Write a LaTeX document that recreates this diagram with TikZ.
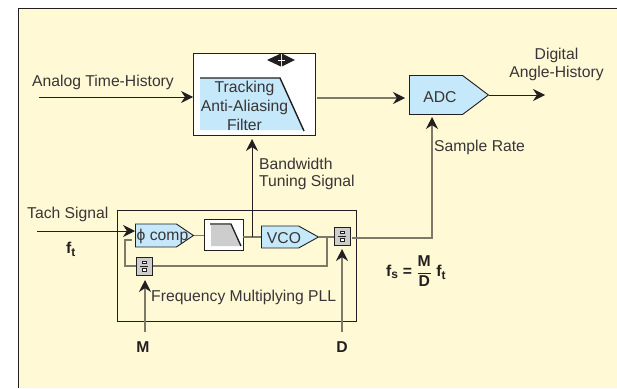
\documentclass[tikz,border=0pt]{standalone}
\usepackage{xcolor}
\usepackage{tikz}
\usepackage{fontspec}
\setmainfont{Liberation Sans}
\usetikzlibrary{shapes,arrows.meta,positioning,calc}
\definecolor{cream}{RGB}{255, 249, 214}
\definecolor{skyfill}{RGB}{197, 232, 250}
\definecolor{inkdark}{RGB}{35, 31, 32}
\definecolor{wiregray}{RGB}{125, 122, 105}
\definecolor{greyfill}{RGB}{205, 205, 205}
\tikzset{
    x=1pt, y=-1pt,
    lbl/.style={text=inkdark!90, font=\fontsize{15.7}{16.5}\selectfont, inner sep=0pt, align=left},
    blbl/.style={text=inkdark, font=\fontsize{15.7}{16.5}\selectfont\bfseries, inner sep=0pt},
    wire/.style={wiregray, line width=1.1pt},
    feed/.style={inkdark, line width=0.9pt, -{Stealth[length=12pt, width=12pt]}},
    feedgray/.style={wiregray, line width=1.1pt, -{Stealth[length=12pt, width=12pt, color=inkdark]}},
    boxw/.style={draw=inkdark, line width=0.9pt, fill=white, inner sep=0pt},
    sig/.style={draw=inkdark, line width=0.9pt, fill=skyfill, inner sep=0pt, shape=signal, signal to=east, anchor=west},
    divbox/.style={draw=inkdark, line width=1pt, fill=greyfill, minimum width=16pt, minimum height=18pt, inner sep=0pt},
}
\newcommand{\divmarks}[1]{%
    \draw[inkdark, line width=0.5pt] ($(#1)+(-4,0)$) -- ($(#1)+(4,0)$);
    \draw[inkdark, fill=white, line width=0.5pt] ($(#1)+(-2,-5)$) rectangle ($(#1)+(2,-2.5)$);
    \draw[inkdark, fill=white, line width=0.5pt] ($(#1)+(-2,2.5)$) rectangle ($(#1)+(2,5)$);
}
\newcommand{\bsub}[1]{$_{\mbox{\fontsize{12}{12}\selectfont\bfseries #1}}$}
\begin{document}
\begin{tikzpicture}
    \useasboundingbox (0,0) rectangle (617,388);
    \fill[cream] (18,8) rectangle (617,388);
    \draw[inkdark, line width=0.9pt] (18,388) -- (18,8) -- (617,8);

    % filter block
    \node[boxw, minimum width=122pt, minimum height=82pt] (filter) at (254.5,94.5) {};
    \fill[skyfill] (200,78) -- (280,78) -- (304,130) -- (200,130) -- cycle;
    \draw[inkdark, line width=1.4pt] (200,78) -- (280,78) -- (304,131);
    \node[lbl, align=center, font=\fontsize{15.7}{19}\selectfont] (filtertxt) at (244.5,106) {Tracking\\Anti-Aliasing\\Filter};
    \fill[inkdark] (267,60) -- (280.8,53.5) -- (280.8,66.5) -- cycle;
    \fill[inkdark] (295,60) -- (281.8,53.5) -- (281.8,66.5) -- cycle;
    \draw[white, line width=0.5pt] (278,60) -- (285,60);

    % ADC and pll blocks
    \node[sig, minimum width=79pt, minimum height=39pt, signal pointer angle=74] (adc) at (409,95) {};
    \node[lbl] (adctxt) at (440,97) {ADC};
    \node[draw=inkdark, line width=0.9pt, minimum width=239pt, minimum height=111pt] (pll) at (236.5,265.5) {};
    \node[sig, minimum width=58pt, minimum height=23pt, signal pointer angle=68] (comp) at (135,235.5) {};
    \node[lbl] (comptxt) at (162.5,236) {ϕ comp};
    \node[boxw, minimum width=39pt, minimum height=31pt] (lowpass) at (223.5,234.5) {};
    \fill[greyfill] (211,225) -- (232,225) -- (241,246) -- (211,246) -- cycle;
    \draw[inkdark, line width=1.3pt] (210,224) -- (231,224) -- (241,246);
    \node[sig, minimum width=57pt, minimum height=22pt, signal pointer angle=58] (vco) at (261,237) {};
    \node[lbl] (vcotxt) at (284,238) {VCO};
    \node[divbox] (divd) at (342,236) {};
    \node[divbox] (divm) at (144,266) {};
    \divmarks{divd}
    \divmarks{divm}

    % free ends
    \coordinate (analogin) at (39,97);
    \coordinate (tachin) at (37,231);
    \coordinate (digout) at (545,95);
    \coordinate (mfoot) at (145,332);
    \coordinate (dfoot) at (342,332);
    \coordinate (mhead) at (145,280);
    \coordinate (dhead) at (342,249);
    \coordinate (tapbw) at (252,237);
    \coordinate (bwhead) at (252,139);
    \coordinate (tapfb) at (327,237);
    \coordinate (fbcorner) at (125,240);
    \coordinate (fbend) at (132,240);
    \coordinate (filterout) at (317,98);
    \coordinate (adcin) at (405,98);
    \coordinate (divdout) at (352,238);
    \coordinate (srhead) at (432,117);

    % connectors
    \draw[feed] (analogin) -- (filter.west |- analogin);
    \draw[feedgray] (filterout) -- (adcin);
    \draw[feed] (adc.east) -- (digout);
    \draw[feed] (tachin) -- (comp.west |- tachin);
    \draw[wire] (comp.east) -- (lowpass.west |- comp.east);
    \draw[wire] (lowpass.east |- tapbw) -- (vco.west);
    \draw[feed] (tapbw) -- (bwhead);
    \draw[wire] (vco.east) -- (divd.west |- vco.east);
    \draw[wire] (tapfb) |- (divm.east);
    \draw[wire] (divm.west) -| (fbcorner) -- (fbend);
    \draw[feedgray] (mfoot) -- (mhead);
    \draw[feedgray] (dfoot) -- (dhead);
    \draw[feedgray] (divdout) -| (srhead);

    % labels
    \node[lbl, anchor=west] (analoglbl) at (32,82) {Analog Time-History};
    \node[lbl, anchor=west] (tachlbl) at (27,214) {Tach Signal};
    \node[blbl] (ftlbl) at (71,249) {f\bsub{t}};
    \node[lbl, anchor=west] (bwlbl) at (259,174) {Bandwidth\\Tuning Signal};
    \node[lbl, anchor=west] (srlbl) at (434,147) {Sample Rate};
    \node[lbl, align=center, font=\fontsize{15.7}{18}\selectfont] (diglbl) at (556.5,64) {Digital\\Angle-History};
    \node[lbl, anchor=west] (plllbl) at (151,297) {Frequency Multiplying PLL};
    \node[blbl] (mlbl) at (143,347) {M};
    \node[blbl] (dlbl) at (342,347) {D};
    \node[blbl, anchor=west] (fslbl) at (386,271) {f\bsub{s} = $\displaystyle\frac{\mbox{\bfseries M}}{\mbox{\bfseries D}}$ f\bsub{t}};
\end{tikzpicture}
\end{document}
